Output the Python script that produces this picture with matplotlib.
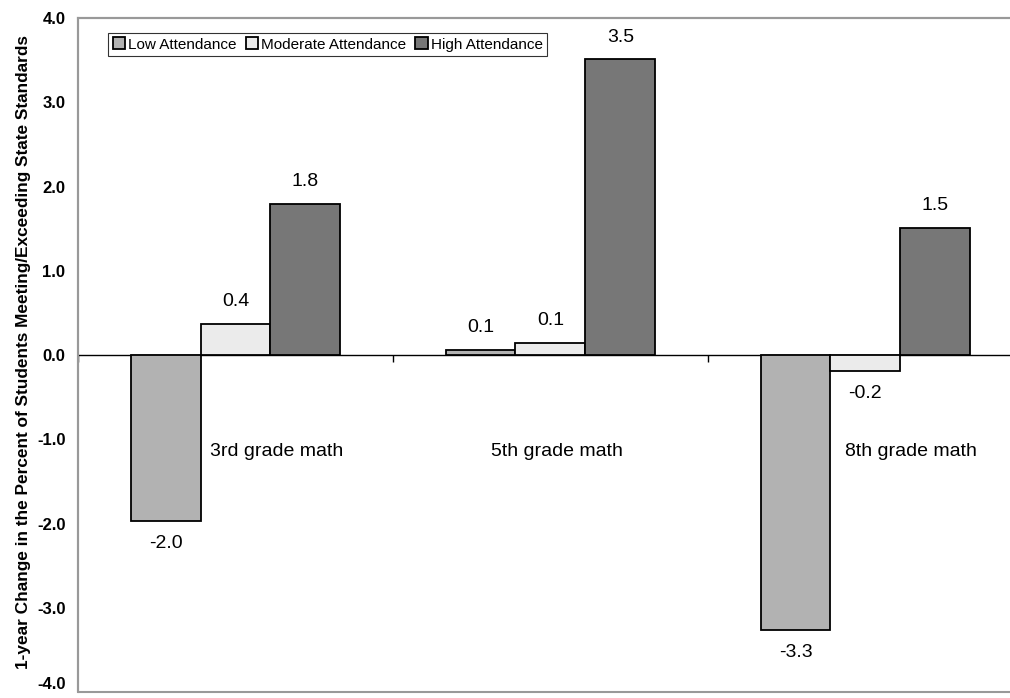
import numpy as np
import matplotlib.pyplot as plt
from matplotlib.patches import Rectangle

plt.rcParams['font.family'] = ['Liberation Sans', 'DejaVu Sans']

grades = ['3rd grade math', '5th grade math', '8th grade math']
series = ['Low Attendance', 'Moderate Attendance', 'High Attendance']
low = [-1.97, 0.06, -3.27]
moderate = [0.37, 0.14, -0.19]
high = [1.79, 3.51, 1.51]
yticks = [-4.0, -3.0, -2.0, -1.0, 0.0, 1.0, 2.0, 3.0, 4.0]

colors = ['#b2b2b2', '#ebebeb', '#777777']
label_shift = [0.13, 0.02, 0.145]   # grade names sit to the right of each group

fig = plt.figure(figsize=(10.10, 6.98), dpi=100)
ax = fig.add_axes([0.0772, 0.0086, 0.9356, 0.9656])

x = np.arange(len(grades))
w = 0.222
for i, (vals, name) in enumerate(zip([low, moderate, high], series)):
    pos = x + (i - 1) * w
    bars = ax.bar(pos, vals, width=w, color=colors[i], edgecolor='black',
                  linewidth=1.3, label=name, zorder=3)
    for b, v in zip(bars, vals):
        off = 16 if v >= 0 else -16
        ax.annotate(f'{v:.1f}', (b.get_x() + b.get_width() / 2, v),
                    xytext=(0, off), textcoords='offset points',
                    ha='center', va='center', fontsize=14)

for i, g in enumerate(grades):
    ax.text(x[i] + label_shift[i], -1.15, g, ha='center', va='center', fontsize=14)

ax.set_xlim(-0.5, len(grades) - 0.5)
ax.set_ylim(-4, 4)
ax.set_yticks(yticks)
ax.set_yticklabels([f'{t:.1f}' for t in yticks], fontweight='bold', fontsize=12)
ax.tick_params(axis='y', length=0, pad=9)
ax.get_yticklabels()[0].set_va('bottom')

# zero line acts as the category axis, with ticks between groups
ax.spines['bottom'].set_position(('data', 0))
ax.spines['bottom'].set_color('black')
ax.spines['bottom'].set_linewidth(1.0)
ax.set_xticks(np.arange(-0.5, len(grades), 1.0))
ax.set_xticklabels([])
ax.tick_params(axis='x', direction='out', length=5, width=1.0, color='black')
for s in ['left', 'top', 'right']:
    ax.spines[s].set_color('#999999')
    ax.spines[s].set_linewidth(1.5)
ax.add_patch(Rectangle((0, 0), 1, 1, transform=ax.transAxes, fill=False,
                       edgecolor='#999999', linewidth=1.5, clip_on=False, zorder=5))

ax.set_ylabel('1-year Change in the Percent of Students Meeting/Exceeding State Standards',
              fontweight='bold', fontsize=12.4)
ax.yaxis.set_label_coords(-0.050, 0.505)

leg = ax.legend(loc='upper left', bbox_to_anchor=(0.032, 0.978), ncol=3, fontsize=11,
                frameon=True, fancybox=False, handlelength=0.8, handleheight=0.8,
                handletextpad=0.2, columnspacing=0.6, borderpad=0.3, borderaxespad=0)
leg.get_frame().set_edgecolor('black')
leg.get_frame().set_linewidth(0.8)

fig.savefig('out.png', dpi=100)
